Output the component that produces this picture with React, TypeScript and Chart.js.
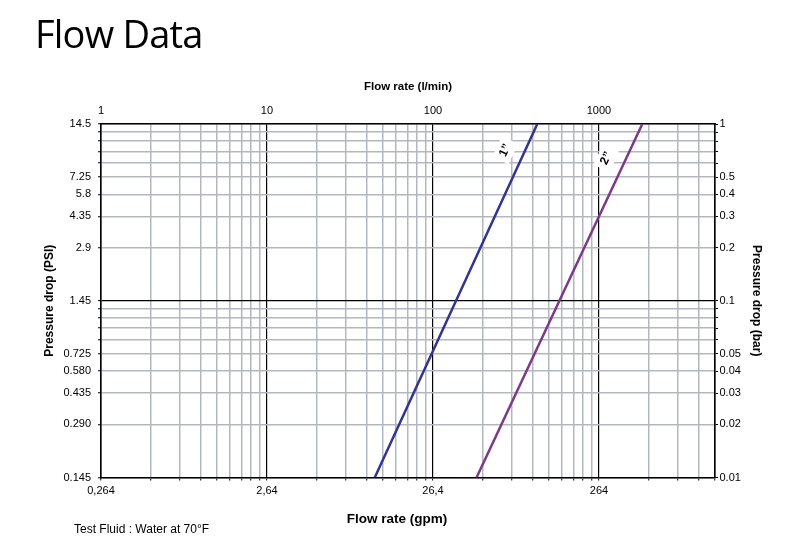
import React, { useEffect, useRef } from 'react';
import { Chart, registerables } from 'chart.js';

Chart.register(...registerables);

// ---- data (flow in l/min, pressure drop in bar) ----
const FLOW_MIN = 1;
const FLOW_MAX = 5000;
const BAR_MIN = 0.01;
const BAR_MAX = 1;

const series1Name = '1”';
const series1Flow = [44.6, 425];
const series1Bar = [0.01, 1];

const series2Name = '2”';
const series2Flow = [183, 1824];
const series2Bar = [0.01, 1];

const labelAnchorBar = [0.71, 0.64];

const topTickValues = [1, 10, 100, 1000];
const topTickLabels = ['1', '10', '100', '1000'];
const bottomTickLabels = ['0,264', '2,64', '26,4', '264'];

const pressureTickValues = [0.01, 0.02, 0.03, 0.04, 0.05, 0.1, 0.2, 0.3, 0.4, 0.5, 1];
const psiTickLabels = ['0.145', '0.290', '0.435', '0.580', '0.725', '1.45', '2.9', '4.35', '5.8', '7.25', '14.5'];
const barTickLabels = ['0.01', '0.02', '0.03', '0.04', '0.05', '0.1', '0.2', '0.3', '0.4', '0.5', '1'];

const majorFlowLines = [10, 100, 1000];
const majorBarLines = [0.1];

const FONT = "'Liberation Sans', Arial, sans-serif";

function logGrid(min: number, max: number): number[] {
  const out: number[] = [];
  for (let e = Math.floor(Math.log10(min)); e <= Math.ceil(Math.log10(max)); e++) {
    for (let m = 1; m <= 9; m++) {
      const v = Number((m * Math.pow(10, e)).toPrecision(6));
      if (v >= min && v <= max) out.push(v);
    }
  }
  if (out[out.length - 1] !== max) out.push(max);
  return out;
}

const flowGrid = logGrid(FLOW_MIN, FLOW_MAX);
const barGrid = logGrid(BAR_MIN, BAR_MAX);

function findIdx(list: number[], v: number): number {
  return list.findIndex((t) => Math.abs(v / t - 1) < 1e-6);
}

const GRID_MINOR = '#b3b7bf';
const GRID_MAJOR = '#000000';

const annotPlugin = {
  id: 'annot',
  afterDatasetsDraw(chart: any) {
    const ctx = chart.ctx;
    const xs = chart.scales.x;
    const ys = chart.scales.y;
    const items: [string, number[], number[], number][] = [
      [series1Name, series1Flow, series1Bar, labelAnchorBar[0]],
      [series2Name, series2Flow, series2Bar, labelAnchorBar[1]],
    ];
    items.forEach(([name, fl, br, lb]) => {
      const t = (Math.log10(lb) - Math.log10(br[0])) / (Math.log10(br[1]) - Math.log10(br[0]));
      const f = Math.pow(10, Math.log10(fl[0]) + t * (Math.log10(fl[1]) - Math.log10(fl[0])));
      const px = xs.getPixelForValue(f) - 20;
      const py = ys.getPixelForValue(lb);
      ctx.save();
      ctx.translate(px, py);
      ctx.rotate((-65 * Math.PI) / 180);
      ctx.font = `bold 12px ${FONT}`;
      const w = ctx.measureText(name).width;
      ctx.fillStyle = '#ffffff';
      ctx.fillRect(-w / 2 - 5, -9, w + 10, 18);
      ctx.fillStyle = '#000000';
      ctx.textAlign = 'center';
      ctx.textBaseline = 'middle';
      ctx.fillText(name, 0, 0);
      ctx.restore();
    });
  },
  afterDraw(chart: any) {
    const ctx = chart.ctx;
    const ca = chart.chartArea;
    ctx.save();
    ctx.fillStyle = '#000000';
    ctx.textBaseline = 'middle';
    ctx.textAlign = 'center';
    ctx.font = `bold 13.5px ${FONT}`;
    ctx.fillText('Flow rate (gpm)', (ca.left + ca.right) / 2 - 11, 519);
    ctx.textAlign = 'left';
    ctx.font = `12px ${FONT}`;
    ctx.fillText('Test Fluid : Water at 70°F', 74, 529.5);
    ctx.restore();
  },
};

export default function App() {
  const ref = useRef<HTMLCanvasElement>(null);

  useEffect(() => {
    if (!ref.current) return;
    Chart.defaults.font.family = FONT;
    Chart.defaults.color = '#000000';

    const chart = new Chart(ref.current, {
      type: 'line',
      data: {
        datasets: [
          {
            label: series1Name,
            data: series1Flow.map((x, i) => ({ x, y: series1Bar[i] })),
            borderColor: '#33348f',
            borderWidth: 2.5,
            pointRadius: 0,
            xAxisID: 'x',
            yAxisID: 'y',
          },
          {
            label: series2Name,
            data: series2Flow.map((x, i) => ({ x, y: series2Bar[i] })),
            borderColor: '#7b3a86',
            borderWidth: 2.5,
            pointRadius: 0,
            xAxisID: 'x',
            yAxisID: 'y',
          },
        ],
      },
      options: {
        animation: false,
        responsive: false,
        devicePixelRatio: 1,
        layout: { padding: 0 },
        plugins: { legend: { display: false }, tooltip: { enabled: false } },
        scales: {
          x: {
            type: 'logarithmic',
            position: 'bottom',
            min: FLOW_MIN,
            max: FLOW_MAX,
            afterBuildTicks: (s: any) => {
              s.ticks = flowGrid.map((v) => ({ value: v }));
            },
            afterFit: (s: any) => {
              s.height = 76.5;
            },
            grid: {
              color: (c: any) => (findIdx(majorFlowLines, c.tick?.value) >= 0 ? GRID_MAJOR : GRID_MINOR),
              lineWidth: (c: any) => (findIdx(majorFlowLines, c.tick?.value) >= 0 ? 1.2 : 1.5),
              tickColor: '#000000',
              tickLength: 3,
              tickWidth: 1,
            },
            border: { display: true, color: '#000000', width: 1.6 },
            ticks: {
              autoSkip: false,
              maxRotation: 0,
              padding: 4,
              font: { size: 11 },
              callback: (v: any) => {
                const i = findIdx(topTickValues, Number(v));
                return i >= 0 ? bottomTickLabels[i] : '';
              },
            },
          },
          x2: {
            type: 'logarithmic',
            position: 'top',
            min: FLOW_MIN,
            max: FLOW_MAX,
            afterBuildTicks: (s: any) => {
              s.ticks = flowGrid.map((v) => ({ value: v }));
            },
            afterFit: (s: any) => {
              s.height = 124;
            },
            grid: { drawOnChartArea: false, drawTicks: false },
            border: { display: true, color: '#000000', width: 1.6 },
            ticks: {
              autoSkip: false,
              maxRotation: 0,
              padding: 6.7,
              font: { size: 11 },
              callback: (v: any) => {
                const i = findIdx(topTickValues, Number(v));
                return i >= 0 ? topTickLabels[i] : '';
              },
            },
            title: {
              display: true,
              text: 'Flow rate (l/min)',
              font: { size: 11.5, weight: 'bold' },
              padding: { top: 79.8, bottom: 0 },
            },
          },
          y: {
            type: 'logarithmic',
            position: 'left',
            min: BAR_MIN,
            max: BAR_MAX,
            afterBuildTicks: (s: any) => {
              s.ticks = barGrid.map((v) => ({ value: v }));
            },
            afterFit: (s: any) => {
              s.width = 101;
            },
            grid: {
              color: (c: any) => (findIdx(majorBarLines, c.tick?.value) >= 0 ? GRID_MAJOR : GRID_MINOR),
              lineWidth: (c: any) => (findIdx(majorBarLines, c.tick?.value) >= 0 ? 1.2 : 1.5),
              tickColor: '#000000',
              tickLength: 3,
              tickWidth: 1,
            },
            border: { display: true, color: '#000000', width: 1.6 },
            ticks: {
              autoSkip: false,
              padding: 7,
              font: { size: 11 },
              callback: (v: any) => {
                const i = findIdx(pressureTickValues, Number(v));
                return i >= 0 ? psiTickLabels[i] : '';
              },
            },
            title: {
              display: true,
              text: 'Pressure drop (PSI)',
              font: { size: 12, weight: 'bold' },
              padding: { top: 42, bottom: 0 },
            },
          },
          y2: {
            type: 'logarithmic',
            position: 'right',
            min: BAR_MIN,
            max: BAR_MAX,
            afterBuildTicks: (s: any) => {
              s.ticks = barGrid.map((v) => ({ value: v }));
            },
            afterFit: (s: any) => {
              s.width = 72;
            },
            grid: {
              drawOnChartArea: false,
              tickColor: '#000000',
              tickLength: 3,
              tickWidth: 1,
            },
            border: { display: true, color: '#000000', width: 1.6 },
            ticks: {
              autoSkip: false,
              padding: 1.5,
              font: { size: 11 },
              callback: (v: any) => {
                const i = findIdx(pressureTickValues, Number(v));
                return i >= 0 ? barTickLabels[i] : '';
              },
            },
            title: {
              display: true,
              text: 'Pressure drop (bar)',
              font: { size: 12, weight: 'bold' },
              padding: { top: 23, bottom: 0 },
            },
          },
        },
      } as any,
      plugins: [annotPlugin],
    });
    return () => chart.destroy();
  }, []);

  return (
    <div style={{ position: 'fixed', left: 0, top: 0, width: 787, height: 554, background: '#ffffff' }}>
      <canvas ref={ref} width={787} height={554} style={{ position: 'absolute', left: 0, top: 0, display: 'block' }} />
      <div
        style={{
          position: 'absolute',
          left: 35,
          top: 14,
          fontFamily: "'Open Sans', sans-serif",
          fontSize: 38,
          lineHeight: '38px',
          color: '#000000',
          letterSpacing: '-0.8px',
          whiteSpace: 'nowrap',
        }}
      >
        Flow Data
      </div>
    </div>
  );
}
